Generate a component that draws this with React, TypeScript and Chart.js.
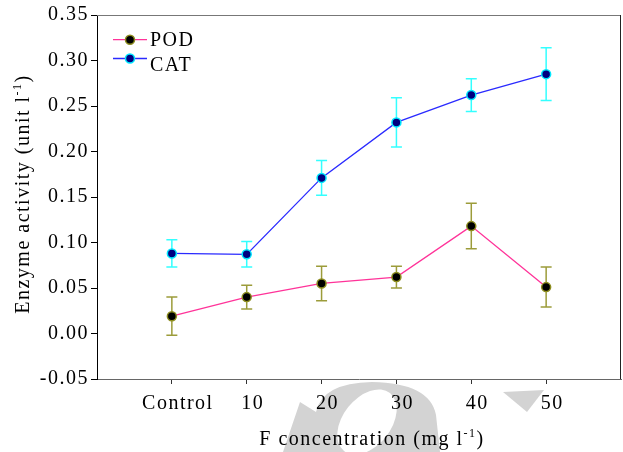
import React, { useEffect, useRef } from 'react';
import { Chart, registerables } from 'chart.js';

Chart.register(...registerables);

const categories = ['Control', '10', '20', '30', '40', '50'];
const podMean = [0.019, 0.040, 0.055, 0.062, 0.118, 0.051];
const podErr = [0.021, 0.013, 0.019, 0.012, 0.025, 0.022];
const catMean = [0.088, 0.087, 0.171, 0.232, 0.262, 0.285];
const catErr = [0.015, 0.014, 0.019, 0.027, 0.018, 0.029];
const yMin = -0.05;
const yMax = 0.35;
const yStep = 0.05;
const yTitle = ['Enzyme activity (unit l', '-1', ')'];
const xTitle = ['F concentration (mg l', '-1', ')'];

const FONT = 'Liberation Serif';
const SPACING = '1.5px';

const watermarkPlugin = {
  id: 'watermark',
  beforeDraw(chart: any) {
    const ctx = chart.ctx;
    ctx.letterSpacing = SPACING;
    ctx.save();
    ctx.fillStyle = '#d3d3d3';
    ctx.beginPath();
    ctx.moveTo(283, 452);
    ctx.lineTo(300, 402);
    ctx.lineTo(316, 412);
    ctx.quadraticCurveTo(322, 383, 372, 382);
    ctx.quadraticCurveTo(430, 383, 436, 415);
    ctx.lineTo(440, 452);
    ctx.closePath();
    ctx.fill();
    ctx.fillStyle = '#ffffff';
    ctx.beginPath();
    ctx.ellipse(367, 422, 37, 24, -0.9, 0, Math.PI * 2);
    ctx.fill();
    ctx.fillStyle = '#d3d3d3';
    ctx.beginPath();
    ctx.moveTo(503, 392);
    ctx.lineTo(544, 390);
    ctx.lineTo(527, 412);
    ctx.closePath();
    ctx.fill();
    ctx.restore();
  },
};

const errorBarPlugin = {
  id: 'errorBars',
  beforeDatasetsDraw(chart: any) {
    const ctx = chart.ctx;
    const yScale = chart.scales.y;
    chart.data.datasets.forEach((ds: any, di: number) => {
      const meta = chart.getDatasetMeta(di);
      ctx.save();
      ctx.strokeStyle = ds.errorColor;
      ctx.lineWidth = 1.5;
      meta.data.forEach((pt: any, i: number) => {
        const m = ds.data[i].y;
        const e = ds.errors[i];
        const yt = yScale.getPixelForValue(m + e);
        const yb = yScale.getPixelForValue(m - e);
        const x = pt.x;
        ctx.beginPath();
        ctx.moveTo(x, yt);
        ctx.lineTo(x, yb);
        ctx.moveTo(x - 5.5, yt);
        ctx.lineTo(x + 5.5, yt);
        ctx.moveTo(x - 5.5, yb);
        ctx.lineTo(x + 5.5, yb);
        ctx.stroke();
      });
      ctx.restore();
    });
  },
};

function drawSup(ctx: any, parts: string[], cx: number, baseline: number) {
  ctx.font = `20px "${FONT}"`;
  const w1 = ctx.measureText(parts[0]).width;
  const w3 = ctx.measureText(parts[2]).width;
  ctx.font = `12px "${FONT}"`;
  const w2 = ctx.measureText(parts[1]).width;
  const total = w1 + w2 + w3;
  let x = cx - total / 2;
  ctx.textAlign = 'left';
  ctx.textBaseline = 'alphabetic';
  ctx.fillStyle = '#000';
  ctx.font = `20px "${FONT}"`;
  ctx.fillText(parts[0], x, baseline);
  x += w1;
  ctx.font = `12px "${FONT}"`;
  ctx.fillText(parts[1], x, baseline - 8);
  x += w2;
  ctx.font = `20px "${FONT}"`;
  ctx.fillText(parts[2], x, baseline);
}

const decorPlugin = {
  id: 'decor',
  afterDraw(chart: any) {
    const ctx = chart.ctx;
    const a = chart.chartArea;
    ctx.save();
    ctx.letterSpacing = SPACING;
    ctx.lineWidth = 1;
    ctx.strokeStyle = '#777';
    ctx.beginPath();
    ctx.moveTo(a.left, a.top + 0.5);
    ctx.lineTo(a.right, a.top + 0.5);
    ctx.stroke();
    ctx.strokeStyle = '#222';
    ctx.beginPath();
    ctx.moveTo(a.right - 0.5, a.top);
    ctx.lineTo(a.right - 0.5, a.bottom);
    ctx.stroke();
    drawSup(ctx, xTitle, 372, 445);
    ctx.save();
    ctx.translate(29, 194);
    ctx.rotate(-Math.PI / 2);
    drawSup(ctx, yTitle, 0, 0);
    ctx.restore();
    const items = [
      { ds: chart.data.datasets[0], y: 39.7, ty: 45.5 },
      { ds: chart.data.datasets[1], y: 58.5, ty: 71 },
    ];
    items.forEach(({ ds, y, ty }) => {
      ctx.strokeStyle = ds.borderColor;
      ctx.lineWidth = 1.3;
      ctx.beginPath();
      ctx.moveTo(113, y);
      ctx.lineTo(147, y);
      ctx.stroke();
      ctx.beginPath();
      ctx.arc(130, y, 4.5, 0, Math.PI * 2);
      ctx.fillStyle = ds.pointBackgroundColor;
      ctx.fill();
      ctx.lineWidth = 1.5;
      ctx.strokeStyle = ds.pointBorderColor;
      ctx.stroke();
      ctx.fillStyle = '#000';
      ctx.font = `20px "${FONT}"`;
      ctx.textAlign = 'left';
      ctx.textBaseline = 'alphabetic';
      ctx.fillText(ds.label, 150, ty);
    });
    ctx.restore();
  },
};

export default function App() {
  const ref = useRef<HTMLCanvasElement | null>(null);
  useEffect(() => {
    document.body.style.margin = '0';
    const canvas = ref.current;
    if (!canvas) return;
    const chart = new Chart(canvas, {
      type: 'line',
      data: {
        datasets: [
          {
            label: 'POD',
            data: podMean.map((y, i) => ({ x: i, y })),
            errors: podErr,
            errorColor: '#9c9c3a',
            borderColor: '#ff3399',
            borderWidth: 1.3,
            pointRadius: 4.5,
            pointBackgroundColor: '#000000',
            pointBorderColor: '#8c8c1e',
            pointBorderWidth: 1.5,
            tension: 0,
          } as any,
          {
            label: 'CAT',
            data: catMean.map((y, i) => ({ x: i, y })),
            errors: catErr,
            errorColor: '#33ffff',
            borderColor: '#2a2aff',
            borderWidth: 1.3,
            pointRadius: 4.5,
            pointBackgroundColor: '#000080',
            pointBorderColor: '#00e8ff',
            pointBorderWidth: 1.5,
            tension: 0,
          } as any,
        ],
      },
      options: {
        responsive: false,
        animation: false,
        devicePixelRatio: 1,
        layout: { autoPadding: false, padding: { top: 15, right: 2, left: 0, bottom: 0 } },
        plugins: { legend: { display: false }, tooltip: { enabled: false } },
        scales: {
          x: {
            type: 'linear',
            min: -1,
            max: 6,
            afterBuildTicks: (s: any) => {
              s.ticks = categories.map((_, i) => ({ value: i }));
            },
            afterFit: (s: any) => {
              s.height = 73;
              s.paddingLeft = 0;
              s.paddingRight = 0;
            },
            ticks: {
              callback: (v: any) => categories[v] ?? '',
              font: { family: FONT, size: 20 },
              color: '#000',
              padding: 8,
              labelOffset: 6,
              maxRotation: 0,
              autoSkip: false,
            },
            grid: { drawOnChartArea: false, tickLength: 5, color: '#333' },
            border: { color: '#666', width: 1 },
          },
          y: {
            min: yMin,
            max: yMax,
            afterFit: (s: any) => {
              s.width = 97;
              s.paddingTop = 0;
              s.paddingBottom = 0;
            },
            ticks: {
              stepSize: yStep,
              callback: (v: any) => (Math.abs(v) < 1e-9 ? '0.00' : Number(v).toFixed(2)),
              font: { family: FONT, size: 20 },
              color: '#000',
              padding: 2,
            },
            grid: { drawOnChartArea: false, tickLength: 6, color: '#000' },
            border: { color: '#000', width: 1 },
          },
        },
      } as any,
      plugins: [watermarkPlugin, errorBarPlugin, decorPlugin],
    });
    return () => chart.destroy();
  }, []);
  return (
    <div style={{ position: 'absolute', left: 0, top: 0, width: 623, height: 452 }}>
      <canvas ref={ref} width={623} height={452} style={{ display: 'block' }} />
    </div>
  );
}
